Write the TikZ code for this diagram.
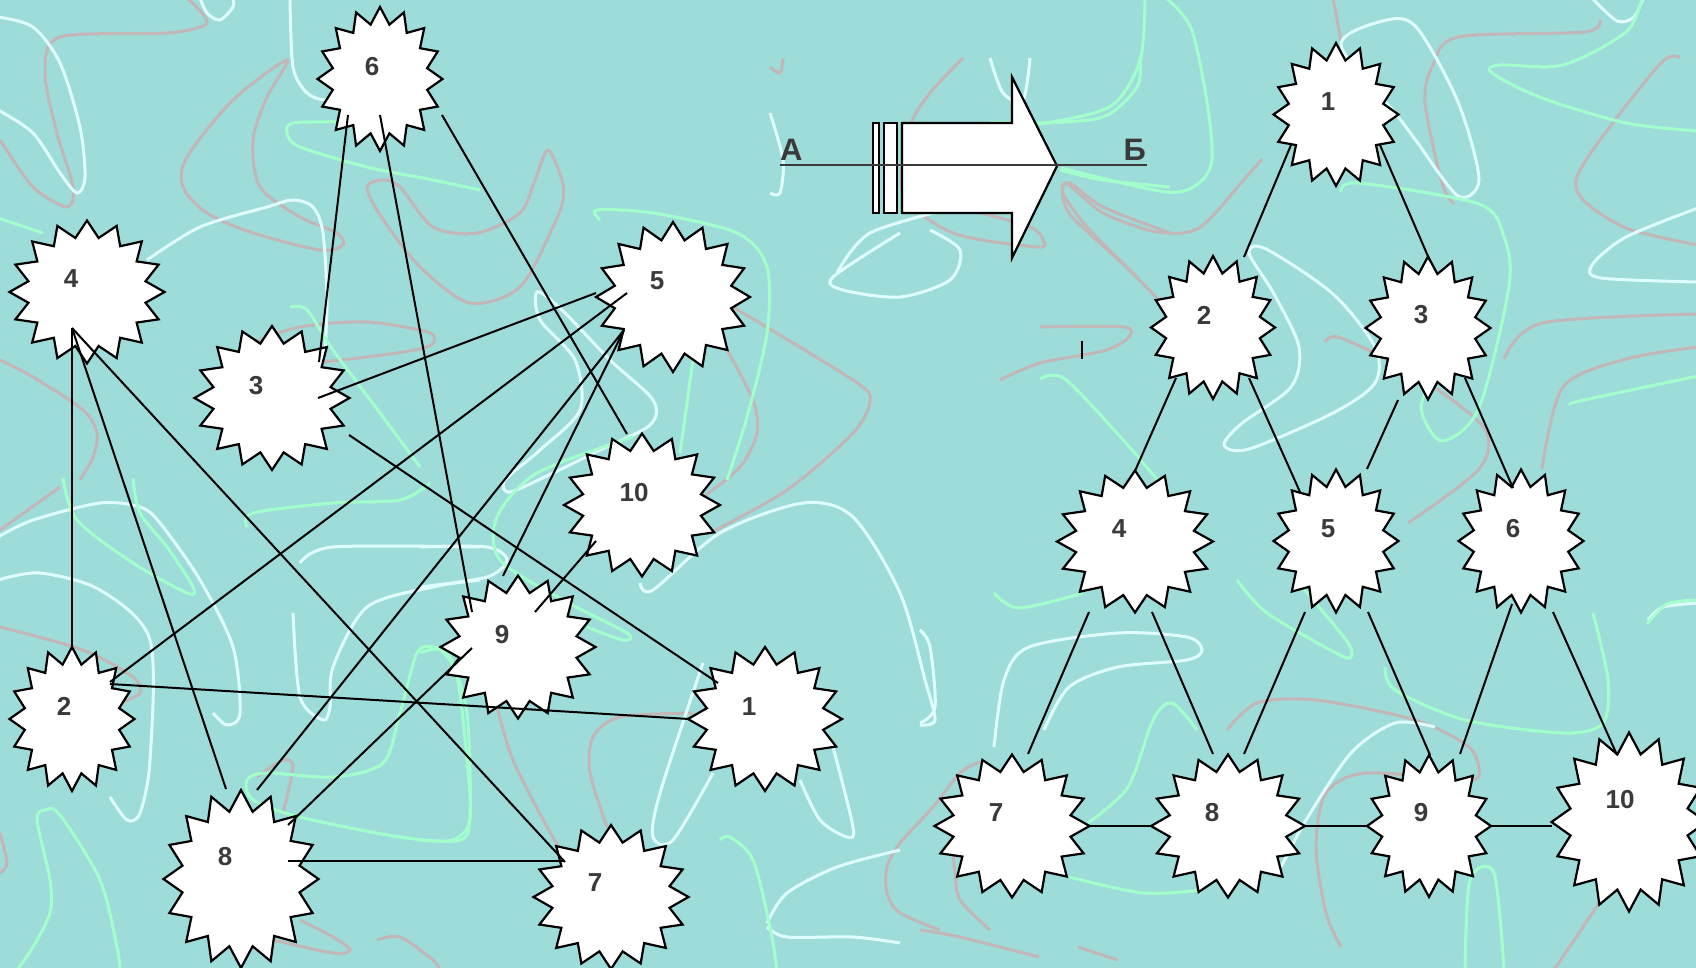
\documentclass[tikz,border=0pt]{standalone}
\usepackage{fontspec}
\setmainfont{Liberation Sans}
\usetikzlibrary{calc}
\definecolor{bg}{RGB}{158,220,218}
\definecolor{pk}{RGB}{194,182,182}
\definecolor{wh}{RGB}{224,253,253}
\definecolor{gn}{RGB}{162,255,204}
\definecolor{txt}{RGB}{58,58,58}
\tikzset{
  pkc/.style={draw=pk, line width=3pt},
  whc/.style={draw=wh, line width=3pt},
  gnc/.style={draw=gn, line width=3pt},
  burstline/.style={draw=black, fill=white, line width=2.2pt, line join=miter},
  conn/.style={draw=black, line width=2pt},
  lbl/.style={font=\bfseries\fontsize{26}{26}\selectfont, text=txt, inner sep=0pt},
  bigl/.style={font=\bfseries\fontsize{31}{31}\selectfont, text=txt, inner sep=0pt},
}
\newcommand\starburst[8]{%
  \draw[burstline] (#2,{#3-#5}) \foreach \k [evaluate=\k as \rr using {ifthenelse(mod(\k,2)==0,1,0.77)}] in {1,...,31}{ -- ({#2+#4*\rr*cos(90+\k*11.25)},{#3-#5*\rr*sin(90+\k*11.25)}) } -- cycle;
  \coordinate (#1) at (#2,#3);
  \node[lbl] (#1t) at (#6,#7) {#8};
}
\begin{document}
\begin{tikzpicture}[x=1pt,y=-1pt]
\useasboundingbox (0,0) rectangle (1696,968);
\fill[bg] (0,0) rectangle (1696,968);
% ---------- background squiggles ----------
\begin{scope}
\clip (0,0) rectangle (1696,968);
% pink
\draw[pkc] plot[smooth] coordinates {(0,140) (33,187) (67,207) (73,187) (57,133) (45,73) (60,37) (167,33) (207,23) (187,-2)};
\draw[pkc] plot[smooth cycle] coordinates {(287,60) (233,100) (187,157) (183,187) (207,213) (253,233) (320,250) (343,245) (337,233) (300,217) (260,187) (253,140) (267,97)};
\draw[pkc] plot[smooth cycle] coordinates {(367,187) (383,180) (400,187) (433,227) (477,233) (520,213) (535,180) (548,150) (562,180) (563,200) (553,227) (520,287) (470,303) (420,267) (380,215)};
\draw[pkc] plot[smooth cycle] coordinates {(250,345) (300,327) (367,322) (430,333) (427,347) (367,357) (300,363) (255,358)};
\draw[pkc] plot[smooth] coordinates {(0,360) (33,377) (83,410) (97,433) (93,457) (80,480)};
\draw[pkc] plot[smooth] coordinates {(733,307) (853,380) (870,400) (853,433) (787,490) (710,533)};
\draw[pkc] plot[smooth] coordinates {(727,350) (753,400) (757,433) (740,467) (703,497)};
\draw[pkc] plot[smooth] coordinates {(693,713) (620,717) (593,737) (590,773) (607,827)};
\draw[pkc] plot[smooth] coordinates {(497,707) (513,760) (547,827) (563,853)};
\draw[pkc] plot[smooth] coordinates {(980,762) (960,773) (933,807) (900,843) (887,867) (887,893) (900,913) (940,930)};
\draw[pkc] plot[smooth] coordinates {(953,853) (955,873) (960,900) (990,930)};
\draw[pkc] plot[smooth] coordinates {(0,530) (60,487)};
\draw[pkc] plot[smooth] coordinates {(0,627) (83,650) (133,677) (140,693) (120,703)};
\draw[pkc] plot[smooth] coordinates {(257,777) (283,760) (293,767) (283,813)};
\draw[pkc] plot[smooth] coordinates {(300,920) (333,937) (350,950) (333,953) (273,940)};
\draw[pkc] plot[smooth] coordinates {(377,940) (400,937) (433,960) (440,970)};
\draw[pkc] plot[smooth] coordinates {(0,833) (7,863) (0,873)};
\draw[pkc] plot[smooth] coordinates {(770,67) (780,73) (783,58)};
\draw[pkc] plot[smooth] coordinates {(963,58) (930,93) (910,127) (903,193) (953,233) (1037,247) (1043,240) (1030,227) (970,210)};
\draw[pkc] plot[smooth] coordinates {(1170,233) (1103,207) (1070,183) (1063,193) (1087,227) (1137,277)};
\draw[pkc] plot[smooth] coordinates {(1262,159) (1241,183) (1199,228) (1157,232) (1103,213) (1065,183) (1069,213) (1124,265) (1161,302)};
\draw[pkc] plot[smooth] coordinates {(1333,-2) (1341,41)};
\draw[pkc] plot[smooth] coordinates {(1454,204) (1442,183) (1425,102) (1433,65) (1458,37) (1584,32) (1600,20)};
\draw[pkc] plot[smooth] coordinates {(1680,58) (1659,65) (1584,163) (1580,196) (1626,228) (1698,245)};
\draw[pkc] plot[smooth] coordinates {(1325,342) (1341,338) (1417,376) (1484,428) (1479,469) (1408,523)};
\draw[pkc] plot[smooth] coordinates {(1504,359) (1542,323) (1698,314)};
\draw[pkc] plot[smooth] coordinates {(1542,469) (1563,387) (1626,359) (1698,347)};
\draw[pkc] plot[smooth] coordinates {(1040,327) (1124,327) (1128,338) (1103,351) (1040,363) (1000,380)};
\draw[pkc] plot[smooth] coordinates {(1227,730) (1257,703) (1316,700) (1415,720) (1469,747) (1479,773) (1465,780) (1366,773) (1326,793) (1316,847) (1326,913) (1341,947)};
\draw[pkc] plot[smooth] coordinates {(920,930) (960,937) (1039,957)};
\draw[pkc] plot[smooth] coordinates {(1078,947) (1118,960)};
\draw[pkc] plot[smooth] coordinates {(1554,970) (1603,897)};
% white
\draw[whc] plot[smooth] coordinates {(-2,17) (33,27) (60,63) (80,127) (85,177) (77,193) (60,173) (33,133) (-2,110)};
\draw[whc] plot[smooth] coordinates {(200,-2) (207,13) (220,20) (233,7) (233,-2)};
\draw[whc] plot[smooth] coordinates {(290,-2) (293,67) (307,93) (325,100) (340,95)};
\draw[whc] plot[smooth] coordinates {(147,260) (200,227) (267,207) (293,200) (313,207) (323,233) (327,300) (325,350)};
\draw[whc] plot[smooth cycle] coordinates {(537,292) (560,308) (610,360) (653,400) (650,425) (600,450) (553,473) (510,492) (505,480) (540,450) (580,410) (575,360) (540,320)};
\draw[whc] plot[smooth] coordinates {(420,547) (487,547) (507,560) (487,577) (420,587)};
\draw[whc] plot[smooth] coordinates {(640,583) (653,590) (720,533) (803,503) (853,517) (900,593) (925,680) (935,720) (920,725)};
\draw[whc] plot[smooth] coordinates {(703,663) (660,793) (653,837) (673,840) (713,773)};
\draw[whc] plot[smooth] coordinates {(833,747) (853,827) (847,837) (820,820) (800,780)};
\draw[whc] plot[smooth] coordinates {(767,923) (787,893) (837,867) (900,850)};
\draw[whc] plot[smooth] coordinates {(767,927) (787,937) (853,937) (900,943)};
\draw[whc] plot[smooth] coordinates {(900,233) (833,277) (843,290) (900,297) (950,280) (960,250) (930,230)};
\draw[whc] plot[smooth] coordinates {(-2,537) (33,520) (100,503) (140,507) (160,523) (200,580) (233,647) (240,713) (227,725) (213,713)};
\draw[whc] plot[smooth] coordinates {(-2,580) (40,573) (100,590) (150,640) (150,760) (140,813) (127,820) (110,797)};
\draw[whc] plot[smooth] coordinates {(300,563) (333,547) (480,547)};
\draw[whc] plot[smooth] coordinates {(293,613) (300,697) (323,720) (330,707) (333,667) (367,607) (433,587) (480,580)};
\draw[whc] plot[smooth] coordinates {(990,58) (1003,93) (1023,100) (1030,58)};
\draw[whc] plot[smooth] coordinates {(770,113) (783,160) (780,193) (770,193)};
\draw[whc] plot[smooth] coordinates {(837,273) (870,233) (957,207)};
\draw[whc] plot[smooth cycle] coordinates {(1341,45) (1387,20) (1417,28) (1458,102) (1479,179) (1458,196) (1417,142) (1396,114)};
\draw[whc] plot[smooth] coordinates {(1592,-2) (1617,21) (1634,17) (1643,-2)};
\draw[whc] plot[smooth] coordinates {(1698,208) (1626,237) (1592,265) (1601,278) (1698,282)};
\draw[whc] plot[smooth cycle] coordinates {(1249,253) (1266,249) (1333,294) (1375,347) (1375,383) (1333,413) (1249,449) (1224,445) (1241,424) (1291,387) (1299,347) (1274,294)};
\draw[whc] plot[smooth] coordinates {(920,723) (935,707) (930,647) (920,630)};
\draw[whc] plot[smooth] coordinates {(994,747) (1004,680) (1029,647) (1118,633) (1187,637) (1202,650) (1187,660) (1118,667) (1069,687) (1044,730)};
\draw[whc] plot[smooth] coordinates {(1281,867) (1306,820) (1351,753) (1395,723) (1435,727)};
\draw[whc] plot[smooth] coordinates {(1648,620) (1663,607) (1698,603)};
% green
\draw[gnc] plot[smooth] coordinates {(340,122) (293,123) (287,133) (300,147) (367,167) (433,180) (480,190)};
\draw[gnc] plot[smooth] coordinates {(-2,218) (43,233)};
\draw[gnc] plot[smooth] coordinates {(290,307) (307,310) (333,350) (383,417) (420,467)};
\draw[gnc] plot[smooth] coordinates {(600,220) (597,210) (653,213) (737,233) (767,267) (767,333) (747,417) (727,480)};
\draw[gnc] plot[smooth] coordinates {(693,360) (680,453)};
\draw[gnc] plot[smooth] coordinates {(633,437) (537,473) (497,517) (500,560) (563,600) (627,633) (623,640) (587,627)};
\draw[gnc] plot[smooth] coordinates {(420,653) (440,650) (457,677) (467,760) (470,820) (453,840) (420,840)};
\draw[gnc] plot[smooth] coordinates {(720,840) (730,837) (753,860) (770,927) (777,970)};
\draw[gnc] plot[smooth] coordinates {(63,478) (77,520) (133,563) (187,593) (193,587) (167,547) (140,513) (133,478)};
\draw[gnc] plot[smooth] coordinates {(247,527) (253,513) (333,503) (400,500) (430,483)};
\draw[gnc] plot[smooth cycle] coordinates {(433,647) (417,653) (400,713) (383,763) (333,777) (267,773) (247,780) (253,800) (300,817) (400,837) (460,840) (470,813) (467,713) (450,657)};
\draw[gnc] plot[smooth] coordinates {(17,970) (33,947) (50,913) (50,880) (37,820) (45,810) (60,815) (100,880) (117,947) (120,970)};
\draw[gnc] plot[smooth] coordinates {(1140,58) (1137,87) (1103,117) (1037,123) (990,122)};
\draw[gnc] plot[smooth] coordinates {(1060,170) (1103,180) (1170,187)};
\draw[gnc] plot[smooth] coordinates {(1145,-2) (1140,61) (1111,106) (1048,123) (1040,123)};
\draw[gnc] plot[smooth] coordinates {(1166,-2) (1191,28) (1207,102) (1212,159) (1199,183) (1166,192) (1061,168)};
\draw[gnc] plot[smooth] coordinates {(1642,-2) (1626,32) (1563,65) (1500,65) (1492,73) (1542,98) (1626,123) (1698,131)};
\draw[gnc] plot[smooth] coordinates {(1341,192) (1358,183) (1479,204) (1504,237) (1509,286) (1479,408) (1442,441) (1421,408) (1437,368)};
\draw[gnc] plot[smooth] coordinates {(1040,379) (1065,379) (1124,441) (1166,490)};
\draw[gnc] plot[smooth] coordinates {(1698,376) (1584,400) (1571,404)};
\draw[gnc] plot[smooth] coordinates {(1647,624) (1667,604) (1698,600)};
\draw[gnc] plot[smooth] coordinates {(994,593) (1019,608) (1083,593)};
\draw[gnc] plot[smooth] coordinates {(1237,580) (1267,613) (1336,653) (1351,657) (1346,640) (1296,580)};
\draw[gnc] plot[smooth] coordinates {(1385,667) (1395,690) (1465,720) (1564,733) (1603,723) (1608,680) (1593,613)};
\draw[gnc] plot[smooth] coordinates {(1088,823) (1128,787) (1153,720) (1172,703) (1197,730)};
\draw[gnc] plot[smooth] coordinates {(1069,877) (1143,893) (1202,890)};
\draw[gnc] plot[smooth] coordinates {(1465,970) (1470,880) (1494,873) (1504,970)};
\end{scope}
% ---------- left graph stars ----------
\starburst{L1}{765}{719}{77}{72}{749}{707}{1}
\starburst{L2}{72}{719}{62.5}{72}{64}{706}{2}
\starburst{L3}{272}{398}{77.5}{72}{256}{386}{3}
\starburst{L4}{87}{292}{77.5}{71.5}{71}{279}{4}
\starburst{L5}{673}{297}{77}{75}{657}{281}{5}
\starburst{L6}{380}{79}{62.5}{72}{372}{67}{6}
\starburst{L7}{611}{897}{77.5}{72}{595}{883}{7}
\starburst{L8}{241}{879}{77.5}{89}{225}{857}{8}
\starburst{L9}{518}{647}{77.5}{71.5}{502}{635}{9}
\starburst{L10}{642}{505}{78}{71.5}{634}{493}{10}
% ---------- right graph stars ----------
\starburst{R1}{1336}{114.5}{62.5}{71.5}{1328}{102}{1}
\starburst{R2}{1213}{327.5}{62}{71.5}{1204}{315}{2}
\starburst{R3}{1428}{328}{62.5}{71.5}{1421}{315}{3}
\starburst{R4}{1135}{541.5}{78}{71}{1119}{529}{4}
\starburst{R5}{1336}{541}{62.5}{71.5}{1328}{529}{5}
\starburst{R6}{1521}{541}{62.5}{71.5}{1513}{529}{6}
\starburst{R7}{1012}{826}{77.5}{71.5}{996}{813}{7}
\starburst{R8}{1228}{826}{77}{71.5}{1212}{813}{8}
\starburst{R9}{1429}{826}{62}{71}{1421}{813}{9}
\starburst{R10}{1629}{822}{77.5}{89.5}{1620}{800}{10}
% ---------- left edges ----------
\draw[conn] ($(L6)+(-32,36)$) -- ($(L3)+(47,-36)$);
\draw[conn] ($(L6)+(0,36)$) -- ($(L9)+(-46,-35)$);
\draw[conn] ($(L6)+(62,36)$) -- ($(L10)+(-15,-71)$);
\draw[conn] ($(L4)+(-15,36)$) -- ($(L2)+(0,-71)$);
\draw[conn] ($(L4)+(-15,36)$) -- ($(L8)+(-15,-90)$);
\draw[conn] ($(L4)+(-15,36)$) -- ($(L7)+(-46,-35)$);
\draw[conn] ($(L3)+(46,0)$) -- ($(L5)+(-77,-4)$);
\draw[conn] ($(L3)+(77,37)$) -- ($(L1)+(-47,-36)$);
\draw[conn] ($(L5)+(-46,-4)$) -- ($(L2)+(38,-37)$);
\draw[conn] ($(L2)+(38,-35)$) -- ($(L1)+(-76,0)$);
\draw[conn] ($(L5)+(-49,33)$) -- ($(L9)+(-15,-71)$);
\draw[conn] ($(L5)+(-49,33)$) -- ($(L8)+(16,-89)$);
\draw[conn] ($(L10)+(-46,36)$) -- ($(L9)+(17,-35)$);
\draw[conn] ($(L8)+(47,-54)$) -- ($(L9)+(-46,1)$);
\draw[conn] ($(L8)+(47,-18)$) -- ($(L7)+(-46,-36)$);
% ---------- right edges ----------
\draw[conn] ($(R1)+(-45,30.5)$) -- ($(R2)+(31,-70.5)$);
\draw[conn] ($(R1)+(44,30.5)$) -- ($(R3)+(2,-67)$);
\draw[conn] ($(R2)+(-37,50.5)$) -- ($(R4)+(0,-70.5)$);
\draw[conn] ($(R2)+(36,50.5)$) -- ($(R5)+(-36,-49)$);
\draw[conn] ($(R3)+(-30,72)$) -- ($(R5)+(31,-72)$);
\draw[conn] ($(R3)+(37,50)$) -- ($(R6)+(-8,-53)$);
\draw[conn] ($(R4)+(-46,70.5)$) -- ($(R7)+(16,-72)$);
\draw[conn] ($(R4)+(17,70.5)$) -- ($(R8)+(-15,-72)$);
\draw[conn] ($(R5)+(-31,71)$) -- ($(R8)+(16,-72)$);
\draw[conn] ($(R5)+(32,71)$) -- ($(R9)+(1,-71)$);
\draw[conn] ($(R6)+(-9,63)$) -- ($(R9)+(31,-72)$);
\draw[conn] ($(R6)+(32,71)$) -- ($(R10)+(-12,-67)$);
\draw[conn] ($(R7)+(76,0)$) -- ($(R8)+(-76,0)$);
\draw[conn] ($(R8)+(77,0)$) -- ($(R9)+(-61,0)$);
\draw[conn] ($(R9)+(61,0)$) -- ($(R10)+(-77,4)$);
% ---------- arrow A -> B ----------
\draw[burstline] (873,123) rectangle (879,213);
\draw[burstline] (884,123) rectangle (897,213);
\draw[burstline] (902,123) -- (1012,123) -- (1012,77) -- (1057,166) -- (1012,258) -- (1012,213) -- (902,213) -- cycle;
\node[bigl, anchor=base west] (tA) at (780,161) {А};
\node[bigl, anchor=base east] (tB) at (1146,161) {Б};
\coordinate (lineL) at (780,165);
\coordinate (lineR) at (1147,165);
\draw[draw=txt, line width=2.6pt] (lineL) -- (lineR);
% small tick
\coordinate (tickT) at (1082,341);
\coordinate (tickB) at (1082,359);
\draw[conn] (tickT) -- (tickB);
\end{tikzpicture}
\end{document}
